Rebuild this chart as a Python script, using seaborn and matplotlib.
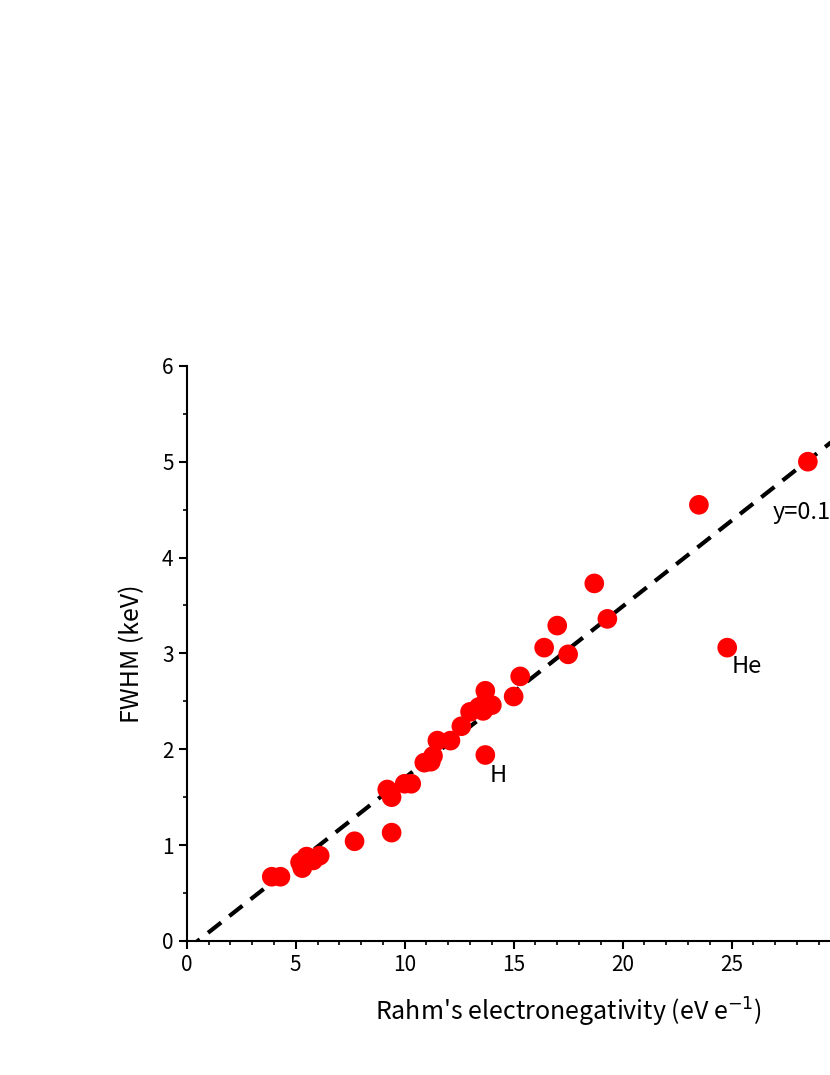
import numpy as np
import seaborn as sns
import matplotlib.pyplot as plt

sns.set_style("ticks")
plt.rcParams['font.family'] = ['Noto Sans CJK SC', 'DejaVu Sans']
plt.rcParams['text.color'] = 'black'
plt.rcParams['axes.labelcolor'] = 'black'
plt.rcParams['xtick.color'] = 'black'
plt.rcParams['ytick.color'] = 'black'
plt.rcParams['axes.edgecolor'] = 'black'

chi = [3.9, 4.3, 5.2, 5.3, 5.5, 5.8, 6.1, 7.7, 9.2, 9.4, 9.4, 10.0, 10.3, 10.9, 11.2, 11.3,
       11.5, 12.1, 12.6, 13.0, 13.4, 13.6, 13.7, 13.7, 14.0, 13.7, 15.0, 15.3, 16.4, 17.0,
       17.5, 18.7, 19.3, 23.5, 24.8, 28.5]
fwhm = [0.67, 0.67, 0.82, 0.76, 0.88, 0.84, 0.89, 1.04, 1.58, 1.50, 1.13, 1.64, 1.64, 1.86,
        1.87, 1.93, 2.09, 2.09, 2.24, 2.39, 2.44, 2.40, 2.61, 2.49, 2.46, 1.94, 2.55, 2.76,
        3.06, 3.29, 2.99, 3.73, 3.36, 4.55, 3.06, 5.00]
fit_slope = 0.179
fit_intercept = -0.09

fig = plt.figure(figsize=(8.3, 10.75), dpi=100)
ax = fig.add_axes([0.225, 0.1247, 0.919, 0.535])

xs = np.array([0, 35])
ax.plot(xs, fit_slope * xs + fit_intercept, 'k--', lw=3, dashes=(4, 2.5), zorder=1)
sns.scatterplot(x=chi, y=fwhm, ax=ax, color='red', s=200, edgecolor='none', zorder=2)

ax.text(13.9, 1.85, 'H', fontsize=17, va='top')
ax.text(25.0, 2.98, 'He', fontsize=17, va='top')
ax.text(26.9, 4.4, 'y=0.179x-0.107', fontsize=17)

ax.set_xlim(0, 35)
ax.set_ylim(0, 6)
ax.set_xticks([0, 5, 10, 15, 20, 25, 30])
ax.set_xticks(np.arange(0, 35, 1), minor=True)
ax.set_yticks(range(7))
ax.set_yticks(np.arange(0, 6, 0.5), minor=True)
ax.tick_params(labelsize=15, direction='out', length=6, width=1.5)
ax.tick_params(which='minor', length=3, width=1.2)
for s in ['top', 'right']:
    ax.spines[s].set_visible(False)
for s in ['left', 'bottom']:
    ax.spines[s].set_linewidth(1.5)

ax.set_xlabel("Rahm's electronegativity (eV e$^{-1}$)", fontsize=18, labelpad=14)
ax.set_ylabel('FWHM (keV)', fontsize=18, labelpad=12)

fig.savefig('out.png', dpi=100)
